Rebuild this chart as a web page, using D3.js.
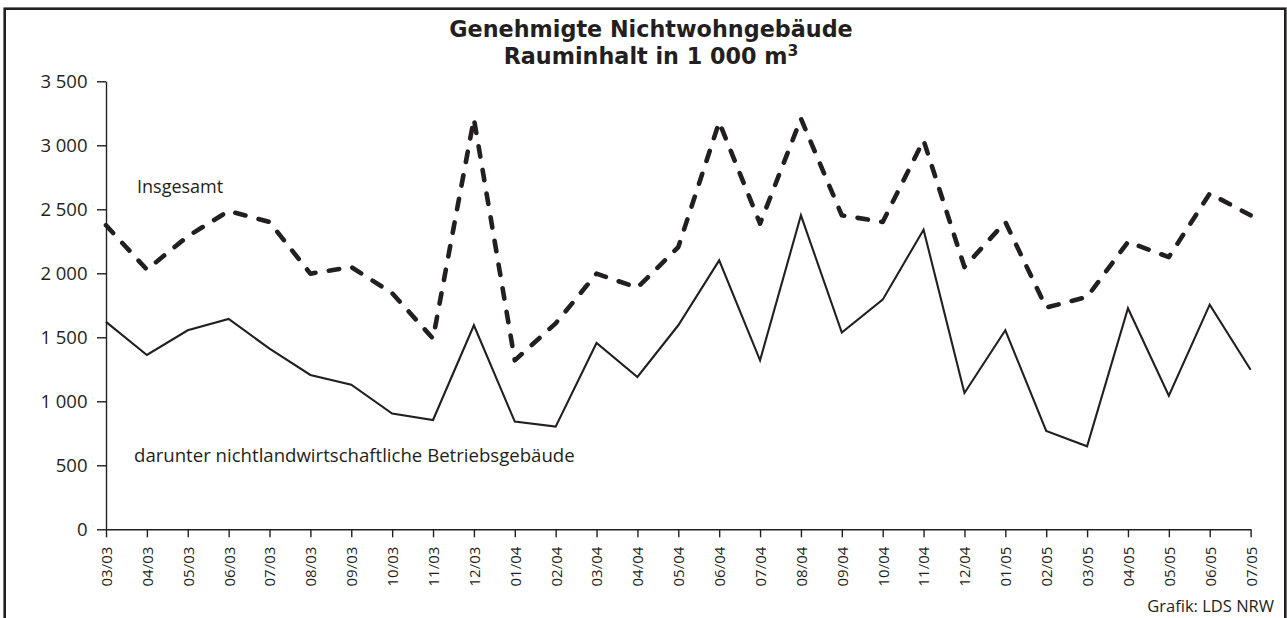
<!DOCTYPE html>
<html><head><meta charset="utf-8">
<script src="https://cdn.jsdelivr.net/npm/d3@7"></script>
<style>
html,body{margin:0;padding:0;background:#fff;}
svg{display:block;}
text{font-family:"Open Sans","Noto Sans",sans-serif;fill:#231f20;}
text.title{font-family:"DejaVu Sans","Open Sans",sans-serif;font-weight:bold;}
</style></head>
<body>
<svg id="chart" width="1287" height="618"></svg>
<script>
const categories = ["03/03","04/03","05/03","06/03","07/03","08/03","09/03","10/03","11/03","12/03",
  "01/04","02/04","03/04","04/04","05/04","06/04","07/04","08/04","09/04","10/04","11/04","12/04",
  "01/05","02/05","03/05","04/05","05/05","06/05","07/05"];
const insgesamt = [2375,2029,2289,2487,2401,1997,2049,1845,1490,3208,
  1320,1609,1997,1888,2205,3182,2388,3208,2453,2401,3039,2049,
  2401,1732,1815,2245,2127,2623,2453];
const betriebsgebaeude = [1620,1362,1555,1643,1412,1206,1130,904,854,1594,
  841,802,1456,1190,1594,2101,1320,2453,1537,1794,2341,1065,
  1555,768,648,1727,1044,1755,1247];
const yTicks = [0,500,1000,1500,2000,2500,3000,3500];
const titleLine1 = "Genehmigte Nichtwohngebäude";
const titleLine2 = "Rauminhalt in 1 000 m";
const labelTotal = "Insgesamt";
const labelSub = "darunter nichtlandwirtschaftliche Betriebsgebäude";
const source = "Grafik: LDS NRW";

const svg = d3.select("#chart");
const ink = "#231f20";

// frame
svg.append("rect").attr("x",4.7).attr("y",8.7).attr("width",1280.6).attr("height",620)
  .attr("fill","none").attr("stroke",ink).attr("stroke-width",2.6);

const x = d3.scalePoint().domain(categories).range([106,1250.6]);
const y = d3.scaleLinear().domain([0,3500]).range([529.3,81.3]);

const fmt = v => d3.format(",")(v).replace(/,/g," ");

// y axis
const yAxis = svg.append("g").attr("transform","translate(106,0)")
  .call(d3.axisLeft(y).tickValues(yTicks).tickFormat(fmt).tickSize(9).tickSizeOuter(0).tickPadding(9.5));
yAxis.select(".domain").attr("stroke",ink).attr("stroke-width",1.4);
yAxis.selectAll(".tick line").attr("stroke",ink).attr("stroke-width",1.4);
yAxis.selectAll(".tick text").style("font-size","18.5px").attr("fill",ink).attr("dy","0.36em");

// x axis
const xAxis = svg.append("g").attr("transform","translate(0,529.3)")
  .call(d3.axisBottom(x).tickSize(8).tickSizeOuter(0));
xAxis.select(".domain").attr("stroke",ink).attr("stroke-width",1.4);
xAxis.selectAll(".tick line").attr("stroke",ink).attr("stroke-width",1.4);
xAxis.selectAll(".tick text").style("font-size","15px").attr("fill",ink)
  .attr("transform","rotate(-90)").attr("text-anchor","end")
  .attr("x",-17.4).attr("y",0).attr("dy","0.36em");

const line = d3.line().x((d,i)=>x(categories[i])).y(d=>y(d));

svg.append("path").datum(betriebsgebaeude).attr("d",line)
  .attr("fill","none").attr("stroke",ink).attr("stroke-width",2.1).attr("stroke-linejoin","miter");

svg.append("path").datum(insgesamt).attr("d",line)
  .attr("fill","none").attr("stroke",ink).attr("stroke-width",4.6)
  .attr("stroke-dasharray","10.5 13.5").attr("stroke-linecap","round").attr("stroke-linejoin","round");

// series labels
svg.append("text").attr("x",137).attr("y",192.5).style("font-size","18px").text(labelTotal);
svg.append("text").attr("x",134).attr("y",461.5).style("font-size","18.6px").text(labelSub);

// title
svg.append("text").attr("class","title").attr("x",651).attr("y",36.5).attr("text-anchor","middle")
  .style("font-size","22.3px").text(titleLine1);
const t2 = svg.append("text").attr("class","title").attr("x",651).attr("y",64).attr("text-anchor","middle")
  .style("font-size","22.3px");
t2.append("tspan").text(titleLine2);
t2.append("tspan").attr("dy",-8).style("font-size","15.5px").text("3");

// source
svg.append("text").attr("x",1274).attr("y",611.5).attr("text-anchor","end")
  .style("font-size","16.5px").text(source);
</script>
</body></html>
